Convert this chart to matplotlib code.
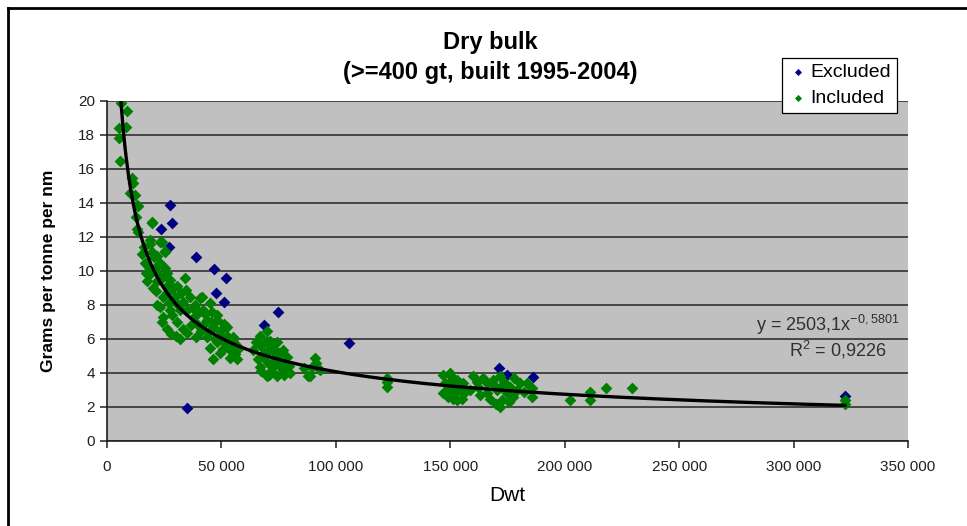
import matplotlib.pyplot as plt
import numpy as np
from matplotlib.ticker import FuncFormatter
from matplotlib.lines import Line2D

plt.rcParams['font.family'] = ['Liberation Sans', 'DejaVu Sans']
plt.rcParams['mathtext.fontset'] = 'custom'
plt.rcParams['mathtext.rm'] = 'Liberation Sans'

# Excluded ships (dwt, grams per tonne per nm)
excl_dwt = [27500, 28400, 23600, 27000, 38900, 46800, 52000, 47600, 51100,
            74700, 68600, 105700, 35000, 171300, 174800, 186200, 322500]
excl_g = [13.9, 12.8, 12.5, 11.4, 10.8, 10.1, 9.6, 8.7, 8.2,
          7.6, 6.8, 5.76, 1.94, 4.3, 3.9, 3.76, 2.65]

# Included ships
incl_dwt = [
    5200, 5200, 5700, 6000, 8300, 8700, 10900, 11400, 10000, 12200, 13500, 13100, 13100, 13500, 12500,
    19700, 19700, 18800, 18800, 23200, 24000, 25300, 25300, 19700, 16600, 23200, 15500, 17000, 21000,
    26200, 34100, 17500, 20100, 26700, 22000, 24500, 29700, 36300, 40600, 45000, 23200, 27500, 31900,
    35000, 37600, 42000, 48100, 24500, 30600, 33200, 35000, 39300, 43700, 46300, 49400, 52400, 55100,
    50700, 41500, 48100, 52400, 55100, 43700, 45000, 49400, 53800, 56800, 46300, 52400, 48100, 30000,
    32000, 19000, 21500, 27000, 29000, 33000, 38000, 41000, 44500, 47000, 50500, 54000, 57500, 36500,
    28500, 26000, 18000, 16000, 22500, 25500, 31000, 40000, 46000, 51000, 56000,
    20500, 22000, 24000, 27500, 30500, 32500, 34500, 38500, 43000, 45500, 50000, 53000, 56000, 42000,
    39000, 22000, 24000, 26000, 28000,
    69900, 71200, 74300, 76900, 78700, 68200, 66900, 72500, 76900, 80000, 69900, 74300, 74300, 63800,
    69900, 72500, 67500, 70500, 73500, 78000, 66000, 71500, 75500, 68500, 77500,
    65000, 67000, 70500, 73000, 75000, 79500, 71000, 67500,
    90900, 89600, 93100, 88700, 87800, 91500, 86000,
    122400, 122400, 122400,
    149900, 153000, 147700, 154300, 149000, 153000, 155600, 146800, 151200, 150500, 148500, 156500, 152000,
    147000, 155000, 151000, 150000,
    160000, 162100, 166100, 168700, 171700, 170400, 172600, 171700, 174800, 176100, 166100, 158600,
    180500, 185700, 185700, 163000, 173500, 169000, 177500, 164500, 172000, 182000,
    167500, 175500, 179000, 183500, 161500, 170000, 178000,
    202300, 211000, 211000, 218000, 229400, 322500, 322500]
incl_g = [
    18.4, 17.8, 16.5, 19.9, 18.5, 19.4, 15.5, 15.2, 14.6, 14.5, 13.8, 13.9, 12.5, 12.3, 13.2,
    12.9, 12.8, 11.8, 11.6, 11.7, 11.7, 11.2, 11.1, 11.1, 10.5, 10.5, 11.0, 9.9, 10.2,
    9.9, 9.6, 9.4, 9.0, 9.2, 9.4, 8.5, 8.5, 8.5, 8.4, 8.1, 7.9, 7.7, 7.7,
    7.7, 7.8, 7.7, 7.4, 7.3, 7.0, 6.6, 6.35, 6.9, 7.1, 6.7, 6.5, 6.2, 5.9,
    5.9, 8.5, 7.1, 6.7, 6.1, 6.1, 5.5, 5.2, 4.9, 4.8, 4.8, 5.8, 5.8, 6.2,
    6.0, 9.8, 8.8, 8.1, 9.0, 8.2, 7.3, 6.5, 6.4, 6.0, 5.4, 5.3, 5.5, 6.8,
    7.4, 8.7, 10.3, 11.4, 9.8, 10.2, 8.0, 7.6, 7.6, 6.9, 5.7,
    10.8, 10.9, 9.6, 9.5, 9.1, 8.7, 8.9, 8.0, 7.5, 7.0, 6.2, 5.6, 5.1, 6.8,
    6.1, 8.0, 7.0, 6.6, 6.3,
    6.5, 5.9, 5.8, 5.35, 4.95, 4.95, 4.35, 4.35, 4.2, 4.0, 3.8, 3.8, 4.95, 5.35,
    5.9, 5.5, 5.6, 4.6, 5.2, 4.6, 4.8, 4.1, 4.4, 5.2, 3.9,
    5.8, 6.2, 5.3, 4.7, 5.2, 4.4, 3.9, 4.1,
    4.9, 4.35, 4.2, 3.8, 3.8, 4.6, 4.3,
    3.7, 3.2, 3.5,
    4.0, 3.6, 3.4, 3.0, 2.6, 2.4, 3.4, 2.8, 3.2, 3.8, 3.0, 2.9, 2.8,
    3.9, 2.5, 2.5, 3.5,
    3.8, 3.2, 3.4, 3.6, 3.8, 3.0, 2.4, 2.0, 2.8, 3.2, 2.8, 3.0,
    3.4, 2.6, 3.1, 2.7, 3.5, 3.3, 2.6, 3.7, 3.2, 2.9,
    2.5, 2.3, 3.0, 3.4, 3.5, 2.2, 3.7,
    2.4, 2.9, 2.4, 3.1, 3.1, 2.4, 2.2]

# power trendline fitted on included ships
b, log_a = np.polyfit(np.log(incl_dwt), np.log(incl_g), 1)
xs = np.linspace(min(incl_dwt), max(incl_dwt), 600)
ys = np.exp(log_a) * xs ** b

fig = plt.figure(figsize=(9.67, 5.26), dpi=100)
ax = fig.add_axes([107 / 967, 1 - 441 / 526, 801 / 967, 340 / 526])
ax.set_facecolor('#c0c0c0')

ax.scatter(excl_dwt, excl_g, marker='D', s=36, color='#000080', linewidths=0, label='Excluded', zorder=3)
ax.scatter(incl_dwt, incl_g, marker='D', s=36, color='#008000', linewidths=0, label='Included', zorder=3)
ax.plot(xs, ys, color='black', lw=2.4, zorder=4)

ax.set_xlim(0, 350000)
ax.set_ylim(0, 20)
ax.set_xticks(np.arange(0, 350001, 50000))
ax.set_yticks(np.arange(0, 21, 2))
ax.xaxis.set_major_formatter(FuncFormatter(lambda v, p: f'{int(v):,}'.replace(',', ' ')))
ax.grid(axis='y', color='#3c3c3c', lw=1.3)
ax.set_axisbelow(True)
for s in ['top', 'right']:
    ax.spines[s].set_visible(False)
for s in ['left', 'bottom']:
    ax.spines[s].set_color('#202020')
    ax.spines[s].set_linewidth(1.2)
ax.tick_params(labelsize=11, colors='#202020', length=5, width=1.1)
ax.tick_params(axis='x', pad=9)

ax.set_xlabel('Dwt', fontsize=15, labelpad=8)
ax.set_ylabel('Grams per tonne per nm', fontsize=12.5, fontweight='bold', labelpad=16)

fig.text(490 / 967, 1 - 42 / 526, 'Dry bulk', ha='center', va='center', fontsize=17, fontweight='bold')
fig.text(490 / 967, 1 - 72 / 526, '(>=400 gt, built 1995-2004)', ha='center', va='center',
         fontsize=17, fontweight='bold')

ax.text(315000, 6.8, r'y = 2503,1x$^{\mathrm{-0,5801}}$', ha='center', va='center', fontsize=13, color='#303030')
ax.text(319500, 5.35, r'R$^{\mathrm{2}}$ = 0,9226', ha='center', va='center', fontsize=13, color='#303030')

leg = fig.legend(loc='upper left', bbox_to_anchor=(782 / 967, 1 - 58 / 526), fontsize=14,
                 frameon=True, fancybox=False, edgecolor='black', framealpha=1,
                 handletextpad=0.15, handlelength=1.0, borderpad=0.3, labelspacing=0.4,
                 markerscale=0.6, borderaxespad=0)
leg.get_frame().set_linewidth(0.9)

# outer chart frame
fig.add_artist(Line2D([8 / 967, 8 / 967], [0, 1 - 8 / 526], color='black', lw=2, transform=fig.transFigure))
fig.add_artist(Line2D([8 / 967, 1], [1 - 8 / 526, 1 - 8 / 526], color='black', lw=2, transform=fig.transFigure))

fig.savefig('out.png', dpi=100)
